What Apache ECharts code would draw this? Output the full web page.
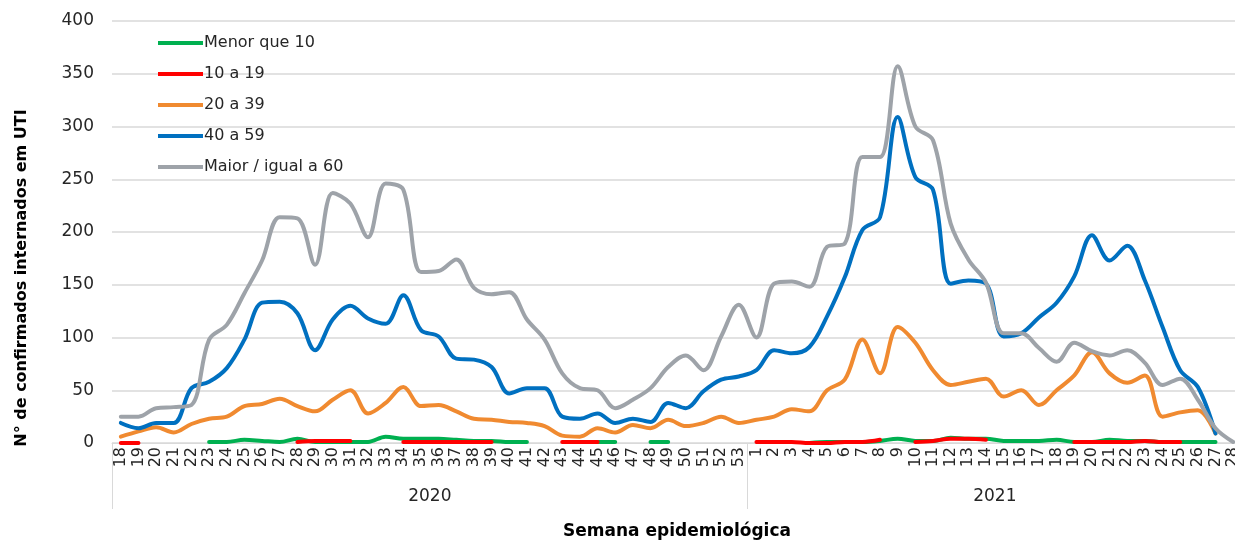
<!DOCTYPE html>
<html>
<head>
<meta charset="utf-8">
<script src="https://cdn.jsdelivr.net/npm/echarts@6/dist/echarts.min.js"></script>
<style>
html,body{margin:0;padding:0;background:#fff;}
#chart{width:1235px;height:542px;}
</style>
</head>
<body>
<div id="chart"></div>
<script>
// ---- Data ----
var weeks2020 = ['18','19','20','21','22','23','24','25','26','27','28','29','30','31','32','33','34','35','36','37','38','39','40','41','42','43','44','45','46','47','48','49','50','51','52','53'];
var weeks2021 = ['1','2','3','4','5','6','7','8','9','10','11','12','13','14','15','16','17','18','19','20','21','22','23','24','25','26','27','28'];
var yearLabels = ['2020', '2021'];
var seriesNames = ['Menor que 10', '10 a 19', '20 a 39', '40 a 59', 'Maior / igual a 60'];

var menor10_2020 = [null,null,null,null,null,1,1,3,2,1,4,1,1,1,1,6,4,4,4,3,2,2,1,1,null,null,null,1,1,null,1,1,null,null,null,null];
var menor10_2021 = [null,null,null,0,1,1,1,2,4,2,2,5,4,4,2,2,2,3,1,1,3,2,2,1,1,1,1,null];

var a10a19_2020 = [0,0,null,null,null,null,null,null,null,null,1,2,2,2,null,null,1,1,1,1,1,1,null,null,null,1,1,1,null,null,null,null,null,null,null,null];
var a10a19_2021 = [1,1,1,0,0,1,1,3,null,1,2,4,4,3,null,null,null,null,1,1,1,1,2,1,1,null,null,null];

var a20a39_2020 = [6,11,15,10,18,23,25,35,37,42,35,30,41,50,28,38,53,35,36,30,23,22,20,19,16,7,6,14,10,17,14,22,16,19,25,19];
var a20a39_2021 = [22,25,32,30,50,60,98,66,110,95,69,55,58,61,44,50,36,50,64,86,66,57,64,25,29,31,9,null];

var a40a59_2020 = [19,14,19,19,52,58,71,98,133,134,123,88,117,130,118,113,140,107,101,80,79,72,47,52,52,25,23,28,19,23,20,38,33,49,60,63];
var a40a59_2021 = [69,88,85,91,120,157,202,214,309,252,240,151,154,151,101,104,119,133,158,197,173,187,154,110,69,53,9,null];

var maior60_2020 = [25,25,33,34,36,98,112,142,173,214,213,169,237,227,195,246,240,162,163,174,147,141,143,117,98,66,52,50,33,41,52,72,83,69,101,131];
var maior60_2021 = [100,151,153,148,186,189,271,271,357,300,287,208,174,152,104,104,90,77,95,87,83,88,76,55,61,41,14,1];

var yTicks = [0, 50, 100, 150, 200, 250, 300, 350, 400];
var colors = ['#00b050', '#ff0000', '#f08a30', '#0070c0', '#9ea3a9'];

// ---- Build ----
var categories = weeks2020.concat(weeks2021);
var spans = [weeks2020.length, weeks2021.length];
var bounds = [0, spans[0], spans[0] + spans[1]];
var centers = [spans[0] / 2, spans[0] + spans[1] / 2];
var allData = [
  menor10_2020.concat(menor10_2021),
  a10a19_2020.concat(a10a19_2021),
  a20a39_2020.concat(a20a39_2021),
  a40a59_2020.concat(a40a59_2021),
  maior60_2020.concat(maior60_2021)
];

var FONT = 'DejaVu Sans';
var chart = echarts.init(document.getElementById('chart'), null, {renderer: 'canvas'});

var series = allData.map(function (d, i) {
  return {
    name: seriesNames[i],
    type: 'line',
    data: d,
    xAxisIndex: 0,
    yAxisIndex: 0,
    smooth: 0.35,
    showSymbol: false,
    symbol: 'none',
    connectNulls: false,
    lineStyle: {width: 4, color: colors[i], cap: 'round'},
    itemStyle: {color: colors[i]},
    animation: false
  };
});

chart.setOption({
  animation: false,
  color: colors,
  grid: {left: 112, width: 1130, top: 21, bottom: 99, containLabel: false, outerBoundsMode: 'none'},
  legend: {
    orient: 'vertical',
    left: 153,
    top: 28,
    itemWidth: 45,
    itemHeight: 4,
    itemGap: 11,
    icon: 'rect',
    data: seriesNames,
    textStyle: {fontFamily: FONT, fontSize: 16, color: '#262626', lineHeight: 20, padding: [0, 0, 0, -4]}
  },
  xAxis: [
    {
      type: 'category',
      data: categories,
      boundaryGap: true,
      position: 'bottom',
      axisLine: {show: true, lineStyle: {color: '#d9d9d9', width: 1}},
      axisTick: {show: false},
      axisLabel: {interval: 0, rotate: 90, margin: 4, fontFamily: FONT, fontSize: 16, color: '#262626'},
      splitLine: {show: false}
    },
    {
      type: 'value',
      min: bounds[0],
      max: bounds[2],
      position: 'bottom',
      axisLine: {show: false},
      splitLine: {show: false},
      axisTick: {show: true, customValues: bounds, length: 66, lineStyle: {color: '#d9d9d9', width: 1}},
      axisLabel: {
        show: true, customValues: centers, margin: 45,
        fontFamily: FONT, fontSize: 17, color: '#262626',
        formatter: function (v) { return v === centers[0] ? yearLabels[0] : (v === centers[1] ? yearLabels[1] : ''); }
      },
      name: 'Semana epidemiológica',
      nameLocation: 'middle',
      nameGap: 80,
      nameTextStyle: {fontFamily: FONT, fontSize: 17, fontWeight: 'bold', color: '#000'}
    }
  ],
  yAxis: {
    type: 'value',
    min: yTicks[0],
    max: yTicks[yTicks.length - 1],
    interval: yTicks[1] - yTicks[0],
    axisLine: {show: false},
    axisTick: {show: false},
    axisLabel: {margin: 18, fontFamily: FONT, fontSize: 17, color: '#262626'},
    splitLine: {show: true, lineStyle: {color: '#d9d9d9', width: 1.5}}
  },
  graphic: [{
    type: 'text',
    x: 22,
    y: 278,
    rotation: Math.PI / 2,
    style: {
      text: 'N° de confirmados internados em UTI',
      x: 0, y: 0,
      align: 'center',
      verticalAlign: 'middle',
      font: 'bold 16px "DejaVu Sans"',
      fill: '#000'
    }
  }],
  series: series
});
</script>
</body>
</html>
